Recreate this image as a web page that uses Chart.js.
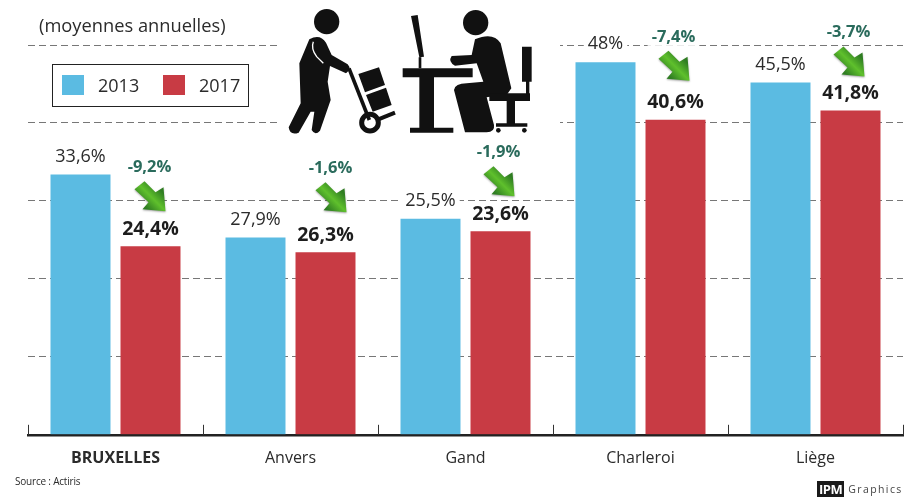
<!DOCTYPE html>
<html lang="fr">
<head>
<meta charset="utf-8">
<title>moyennes annuelles</title>
<script src="https://cdn.jsdelivr.net/npm/chart.js@4"></script>
<style>
  html, body { margin: 0; background: #fff; }
  #wrap { position: relative; width: 908px; height: 497px; overflow: hidden; font-family: "Open Sans", sans-serif; color: #2b2b2b; }
  #chartCanvas { position: absolute; left: 0; top: 0; }
  #title { position: absolute; left: 39px; top: 12px; font-size: 18.3px; line-height: 26px; white-space: nowrap; }
  #legend { position: absolute; left: 52px; top: 64px; width: 195px; height: 41px; border: 1.5px solid #222; background: #fff; }
  #legend i { position: absolute; top: 10px; width: 22px; height: 20px; }
  #legend span { position: absolute; top: 8px; font-size: 18px; line-height: 25px; }
  #source { position: absolute; left: 15px; top: 474px; font-size: 10px; line-height: 14px; letter-spacing: -0.2px; }
  #logo { position: absolute; left: 817px; top: 480px; height: 17px; display: flex; align-items: center; white-space: nowrap; }
  #logo b { background: #1a1a1a; color: #fff; font-size: 13px; line-height: 16px; padding: 0 2px; letter-spacing: -0.5px; }
  #logo span { font-size: 10.5px; line-height: 16px; letter-spacing: 1.4px; color: #444; margin-left: 4px; }
  #icons { position: absolute; left: 280px; top: 0; }
</style>
</head>
<body>
<div id="wrap">
  <canvas id="chartCanvas" width="908" height="497"></canvas>
  <div id="title">(moyennes annuelles)</div>
  <div id="legend"></div>
  <svg id="icons" width="280" height="140" viewBox="0 0 840 420">
    <rect width="840" height="420" fill="#fff"/>
    <g fill="#111">
      <circle cx="140" cy="65" r="38"/>
      <path d="M88 118 Q120 100 138 128 L155 165 L203 193 Q216 207 198 220 L150 198 L143 245 L152 300 L120 392 Q105 408 95 390 L103 335 L92 335 L56 398 Q30 408 26 382 L62 310 L58 190 Z"/>
      <path d="M235 222 L297 202 L315 255 L255 277 Z M258 285 L318 263 L335 315 L278 335 Z"/>
      <path d="M393 48 L413 45 L432 170 L418 172 Z M416 172 L424 172 L424 205 L416 205 Z"/>
      <path d="M368 205 H578 V232 H462 V383 H520 V398 H390 V383 H418 V232 H368 Z"/>
      <circle cx="587" cy="68" r="38"/>
      <path d="M585 118 Q640 95 662 130 L694 265 L682 282 L620 292 L642 375 Q645 397 620 397 L555 397 L522 270 Q525 250 560 250 L610 245 L590 190 L525 197 Q503 185 515 168 L575 165 Z"/>
      <path d="M726 140 H755 V245 H748 V280 H750 V303 H705 V370 H742 V380 H648 V370 H680 V303 H628 V280 H738 V245 H726 Z"/>
      <circle cx="655" cy="391" r="7"/>
      <circle cx="733" cy="391" r="7"/>
    </g>
    <path d="M100 125 Q92 145 110 170 L130 190" fill="none" stroke="#fff" stroke-width="4"/>
    <g fill="none" stroke="#111">
      <path d="M207 205 L268 360" stroke-width="11"/>
      <path d="M295 358 L345 338" stroke-width="12"/>
      <circle cx="270" cy="368" r="25" stroke-width="15"/>
    </g>
  </svg>
  <div id="source">Source : Actiris</div>
  <div id="logo"><b>IPM</b><span>Graphics</span></div>
</div>
<script>
const categories = ["BRUXELLES", "Anvers", "Gand", "Charleroi", "Liège"];
// bar heights: Anvers and Gand are swapped against their printed labels
const bars2013 = [33.4, 25.3, 27.7, 47.8, 45.2];
const bars2017 = [24.2, 23.4, 26.1, 40.4, 41.6];
const labels2013 = ["33,6%", "27,9%", "25,5%", "48%", "45,5%"];
const labels2017 = ["24,4%", "26,3%", "23,6%", "40,6%", "41,8%"];
const deltaLabels = ["-9,2%", "-1,6%", "-1,9%", "-7,4%", "-3,7%"];
const seriesNames = ["2013", "2017"];
const yTicks = [0, 10, 20, 30, 40, 50];

const BLUE = "#5bbbe2";
const RED = "#c83b44";

// small hand nudges for the delta label + arrow, the original isn't regular
const deltaNudge = [[-1, 1], [5, -4], [-2, 1], [-2, -3], [-2, 2]];
const arrowShape = [[-15, 22], [-5, 14], [6, 25], [14, 20], [16, 44], [-7, 42], [-1, 35]];

function haloText(ctx, txt, x, y) {
  const w = ctx.measureText(txt).width;
  ctx.fillStyle = "#fff";
  ctx.fillRect(x - w / 2 - 4, y - 9, w + 8, 18);
}

const axisTicks = {
  id: "axisTicks",
  afterDraw(chart) {
    const { ctx, scales, chartArea } = chart;
    const half = (scales.x.getPixelForValue(1) - scales.x.getPixelForValue(0)) / 2;
    ctx.save();
    ctx.strokeStyle = "#333";
    ctx.lineWidth = 1;
    for (let i = 0; i <= categories.length; i++) {
      const x = Math.round(scales.x.getPixelForValue(i) - half) + 0.5;
      ctx.beginPath();
      ctx.moveTo(x, chartArea.bottom - 10);
      ctx.lineTo(x, chartArea.bottom);
      ctx.stroke();
    }
    ctx.restore();
  },
};

const barLabels = {
  id: "barLabels",
  afterDatasetsDraw(chart) {
    const { ctx } = chart;
    const blue = chart.getDatasetMeta(0).data;
    const red = chart.getDatasetMeta(1).data;
    ctx.save();
    ctx.textAlign = "center";
    ctx.textBaseline = "middle";

    categories.forEach((_, i) => {
      ctx.font = "18px 'Open Sans'";
      haloText(ctx, labels2013[i], blue[i].x, blue[i].y - 18);
      ctx.fillStyle = "#2b2b2b";
      ctx.fillText(labels2013[i], blue[i].x, blue[i].y - 18);

      ctx.font = "bold 19.5px 'Open Sans'";
      haloText(ctx, labels2017[i], red[i].x, red[i].y - 17);
      ctx.fillStyle = "#1d1d1d";
      ctx.fillText(labels2017[i], red[i].x, red[i].y - 17);

      // delta label and its green arrow
      const cx = red[i].x + deltaNudge[i][0];
      const cy = red[i].y - 80 + deltaNudge[i][1];
      ctx.font = "bold 16.5px 'Open Sans'";
      haloText(ctx, deltaLabels[i], cx, cy);
      ctx.fillStyle = "#2a6b5c";
      ctx.fillText(deltaLabels[i], cx, cy);

      const grad = ctx.createLinearGradient(cx - 8, cy + 36, cx + 8, cy + 20);
      grad.addColorStop(0, "#2f7d22");
      grad.addColorStop(0.5, "#5fc02c");
      grad.addColorStop(1, "#2f7d22");
      ctx.beginPath();
      arrowShape.forEach(([dx, dy], k) => {
        if (k === 0) ctx.moveTo(cx + dx, cy + dy);
        else ctx.lineTo(cx + dx, cy + dy);
      });
      ctx.closePath();
      ctx.fillStyle = grad;
      ctx.shadowColor = "rgba(0,0,0,0.35)";
      ctx.shadowBlur = 2;
      ctx.shadowOffsetY = 1;
      ctx.fill();
      ctx.shadowColor = "transparent";
    });
    ctx.restore();
  },
};

const chart = new Chart(document.getElementById("chartCanvas"), {
  type: "bar",
  data: {
    labels: categories,
    datasets: [
      { label: seriesNames[0], data: bars2013, backgroundColor: BLUE },
      { label: seriesNames[1], data: bars2017, backgroundColor: RED },
    ],
  },
  options: {
    responsive: false,
    animation: false,
    maintainAspectRatio: false,
    layout: { padding: { left: 28, right: 5, top: 45, bottom: 23 } },
    datasets: { bar: { categoryPercentage: 0.8, barPercentage: 0.857 } },
    scales: {
      x: {
        grid: { display: false },
        border: { color: "#222", width: 2.5 },
        ticks: {
          color: "#2b2b2b",
          padding: 6,
          maxRotation: 0,
          font: (c) => ({
            family: "'Open Sans'",
            size: 16,
            weight: c.index === 0 ? "bold" : "normal",
          }),
        },
      },
      y: {
        min: yTicks[0],
        max: yTicks[yTicks.length - 1],
        afterBuildTicks: (axis) => { axis.ticks = yTicks.map((value) => ({ value })); },
        ticks: { display: false },
        border: { display: false, dash: [7, 4] },
        grid: { color: "#777", lineWidth: 1, drawTicks: false },
      },
    },
    plugins: {
      legend: { display: false },
      tooltip: { enabled: false },
    },
  },
  plugins: [axisTicks, barLabels],
});

// legend built from the datasets
const legendEl = document.getElementById("legend");
chart.data.datasets.forEach((ds, i) => {
  const sw = document.createElement("i");
  sw.style.left = (9 + i * 101) + "px";
  sw.style.background = ds.backgroundColor;
  const txt = document.createElement("span");
  txt.style.left = (45 + i * 101) + "px";
  txt.textContent = ds.label;
  legendEl.append(sw, txt);
});
</script>
</body>
</html>
